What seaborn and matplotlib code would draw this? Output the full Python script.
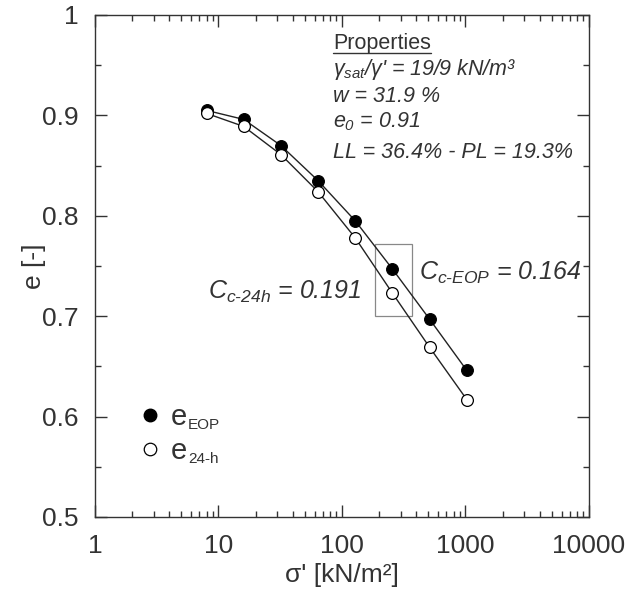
import matplotlib
matplotlib.use("Agg")
import matplotlib.pyplot as plt
import seaborn as sns
import pandas as pd
from matplotlib.patches import Rectangle
from matplotlib.lines import Line2D
from matplotlib.ticker import LogLocator, FixedLocator, NullFormatter

# Oedometer test: void ratio vs effective vertical stress
stress = [8, 16, 32, 64, 128, 256, 512, 1024]
e_eop = [0.905, 0.896, 0.870, 0.835, 0.795, 0.747, 0.697, 0.646]
e_24h = [0.902, 0.889, 0.861, 0.824, 0.778, 0.723, 0.669, 0.617]

cc_eop = 0.164
cc_24h = 0.191

# box marking the stress range used for Cc
box_stress = [185, 367]
box_e = [0.700, 0.772]

x_ticks = [1, 10, 100, 1000, 10000]
x_tick_labels = ["1", "10", "100", "1000", "10000"]
y_ticks = [0.5, 0.6, 0.7, 0.8, 0.9, 1.0]
y_tick_labels = ["0.5", "0.6", "0.7", "0.8", "0.9", "1"]

legend_subs = ["EOP", "24-h"]

sns.set_theme(style="ticks")
plt.rcParams["font.family"] = ["Liberation Sans", "DejaVu Sans"]
plt.rcParams["mathtext.fontset"] = "custom"
plt.rcParams["mathtext.rm"] = "Liberation Sans:italic"
plt.rcParams["mathtext.it"] = "Liberation Sans:italic"
plt.rcParams["mathtext.bf"] = "Liberation Sans:bold"

INK = "#333333"

df = pd.DataFrame({
    "stress": stress * 2,
    "e": e_eop + e_24h,
    "series": ["EOP"] * len(stress) + ["24h"] * len(stress),
})

fig = plt.figure(figsize=(6.31, 5.93), dpi=100)
ax = fig.add_axes([95 / 631, 1 - 517 / 593, 494 / 631, 502 / 593])

sns.lineplot(data=df, x="stress", y="e", units="series", estimator=None,
             color="#222222", lw=1.0, ax=ax, legend=False, sort=False)
sns.scatterplot(data=df[df.series == "EOP"], x="stress", y="e", marker="o",
                s=72, color="black", edgecolor="black", linewidth=0.8,
                ax=ax, legend=False, zorder=3)
sns.scatterplot(data=df[df.series == "24h"], x="stress", y="e", marker="o",
                s=72, color="white", edgecolor="black", linewidth=0.9,
                ax=ax, legend=False, zorder=3)

ax.set_xscale("log")
ax.set_xlim(1, 10000)
ax.set_ylim(0.5, 1.0)
ax.set_xticks(x_ticks)
ax.set_xticklabels(x_tick_labels)
ax.set_yticks(y_ticks)
ax.set_yticklabels(y_tick_labels)
ax.xaxis.set_minor_locator(LogLocator(base=10, subs=range(2, 10), numticks=20))
ax.xaxis.set_minor_formatter(NullFormatter())
ax.yaxis.set_minor_locator(FixedLocator([0.55, 0.65, 0.75, 0.85, 0.95]))

ax.tick_params(which="both", direction="in", top=True, right=True,
               color=INK, width=1.0)
ax.tick_params(which="major", length=8.5, labelsize=19, labelcolor=INK)
ax.tick_params(axis="y", which="major", pad=12)
ax.tick_params(axis="x", which="major", pad=12)
ax.tick_params(which="minor", length=4.5)
for sp in ax.spines.values():
    sp.set_color(INK)
    sp.set_linewidth(1.0)

ax.set_xlabel("σ' [kN/m²]", fontsize=19, color=INK, labelpad=4)
ax.set_ylabel("e [-]", fontsize=19, color=INK)
ax.yaxis.set_label_coords((46 - 95) / 494, 0.5)

ax.add_patch(Rectangle((box_stress[0], box_e[0]),
                       box_stress[1] - box_stress[0], box_e[1] - box_e[0],
                       fill=False, edgecolor="#888888", lw=0.9, zorder=1))

ax.text((208 - 95) / 494, (517 - 292) / 502,
        rf"$C_{{c‐24h}}\text{{ = {cc_24h:.3f}}}$",
        transform=ax.transAxes, fontsize=18, color=INK, va="center", ha="left")
ax.text((419 - 95) / 494, (517 - 273) / 502,
        rf"$C_{{c‐EOP}}\text{{ = {cc_eop:.3f}}}$",
        transform=ax.transAxes, fontsize=18, color=INK, va="center", ha="left")

# properties block
px = (333 - 95) / 494
t = ax.text(px, (517 - 44) / 502, "Properties", transform=ax.transAxes,
            fontsize=15.5, color=INK, va="center", ha="left")
fig.canvas.draw()
bb = t.get_window_extent().transformed(ax.transAxes.inverted())
ax.plot([bb.x0, bb.x1], [bb.y0 + 0.003, bb.y0 + 0.003], transform=ax.transAxes,
        color=INK, lw=1.0, clip_on=False)
prop_lines = [
    r"$\gamma_{sat}\text{/}\gamma\text{' = 19/9 kN/m³}$",
    "w = 31.9 %",
    r"$e_{0}\text{ = 0.91}$",
    "LL = 36.4% - PL = 19.3%",
]
prop_y = [70, 97, 122, 152]
for s, yy in zip(prop_lines, prop_y):
    ax.text(px, (517 - yy) / 502, s, transform=ax.transAxes, fontsize=15.5,
            color=INK, va="center", ha="left", style="italic")

handles = [
    Line2D([], [], ls="none", marker="o", ms=9, mfc="black", mec="black"),
    Line2D([], [], ls="none", marker="o", ms=9, mfc="white", mec="black", mew=0.9),
]
leg = ax.legend(handles, ["e", "e"], loc="center left",
                bbox_to_anchor=((121 - 95) / 494, (517 - 434) / 502),
                frameon=False, fontsize=21, handletextpad=0.2,
                labelspacing=0.2, handlelength=1.0, borderpad=0)
for txt in leg.get_texts():
    txt.set_color(INK)

# subscripts for legend labels
fig.canvas.draw()
for txt, sub in zip(leg.get_texts(), legend_subs):
    tb = txt.get_window_extent()
    ax.annotate(sub, xy=(tb.x1 + 1, tb.y0 + 2), xycoords="figure pixels",
                fontsize=11, color=INK, va="baseline", ha="left")

fig.savefig("out.png", dpi=100, facecolor="white")
